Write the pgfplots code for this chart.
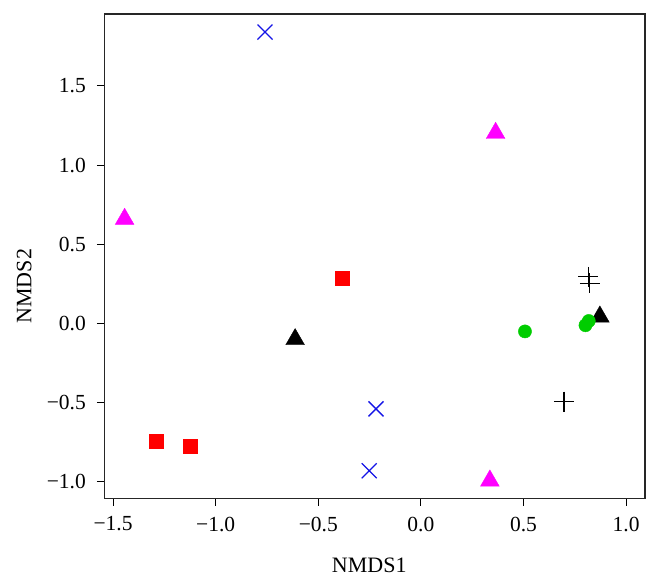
\documentclass[border=0pt]{standalone}
\usepackage{fontspec}
\setmainfont{Liberation Serif}
\usepackage{pgfplots}
\pgfplotsset{compat=1.18}
\definecolor{rgreen}{RGB}{0,205,0}
\definecolor{rblue}{RGB}{20,20,230}
\definecolor{rmag}{RGB}{255,0,255}
\begin{document}
\begin{tikzpicture}
\begin{axis}[
  scale only axis,
  width=540.7bp, height=484.3bp,
  xmin=-1.543, xmax=1.092, ymin=-1.105, ymax=1.954,
  axis line style={line width=1.2bp, black!85},
  xtick={-1.5,-1,-0.5,0,0.5,1},
  xticklabels={−1.5,−1.0,−0.5,0.0,0.5,1.0},
  ytick={-1,-0.5,0,0.5,1,1.5},
  yticklabels={−1.0,−0.5,0.0,0.5,1.0,1.5},
  xtick pos=bottom, ytick pos=left,
  tick align=outside,
  major tick length=7.3bp,
  tick style={line width=0.9bp, black},
  ticklabel style={font=\fontsize{21.5bp}{25bp}\selectfont},
  xticklabel style={inner sep=0pt, yshift=-11bp},
  yticklabel style={inner sep=0pt, xshift=-11bp},
  label style={font=\fontsize{22bp}{26bp}\selectfont},
  xlabel={NMDS1},
  ylabel={NMDS2},
  xlabel style={at={(axis description cs:0.49,0)}, anchor=center, inner sep=0pt, yshift=-67bp},
  ylabel style={at={(axis description cs:0,0.438)}, anchor=center, inner sep=0pt, yshift=80bp},
  clip=false,
]
% red squares
\addplot[only marks, mark=square*, mark size=7bp, color=red, mark options={draw=red, fill=red}]
  coordinates {(-1.291,-0.742) (-1.122,-0.773) (-0.384,0.286)};
% magenta triangles
\addplot[only marks, mark=triangle*, mark size=10.8bp, color=rmag, mark options={draw=rmag, fill=rmag}]
  coordinates {(-1.444,0.659) (0.364,1.202) (0.336,-0.994)};
% black triangles
\addplot[only marks, mark=triangle*, mark size=10.8bp, color=black, mark options={draw=black, fill=black}]
  coordinates {(-0.613,-0.101) (0.872,0.042)};
% green circles
\addplot[only marks, mark=*, mark size=6.6bp, color=rgreen, mark options={draw=rgreen, fill=rgreen}]
  coordinates {(0.507,-0.051) (0.802,-0.012) (0.818,0.015)};
% blue crosses
\addplot[only marks, mark=x, mark size=10.6bp, color=rblue, mark options={line width=1.3bp}]
  coordinates {(-0.760,1.840) (-0.219,-0.540) (-0.252,-0.931)};
% black plus
\addplot[only marks, mark=+, mark size=10bp, color=black, mark options={line width=1.3bp}]
  coordinates {(0.816,0.294) (0.823,0.252) (0.697,-0.495)};
\end{axis}
\pgfresetboundingbox
\path (current axis.south west) +(-104.3bp,-80.7bp) (current axis.north east) +(15bp,14bp);
\end{tikzpicture}
\end{document}
